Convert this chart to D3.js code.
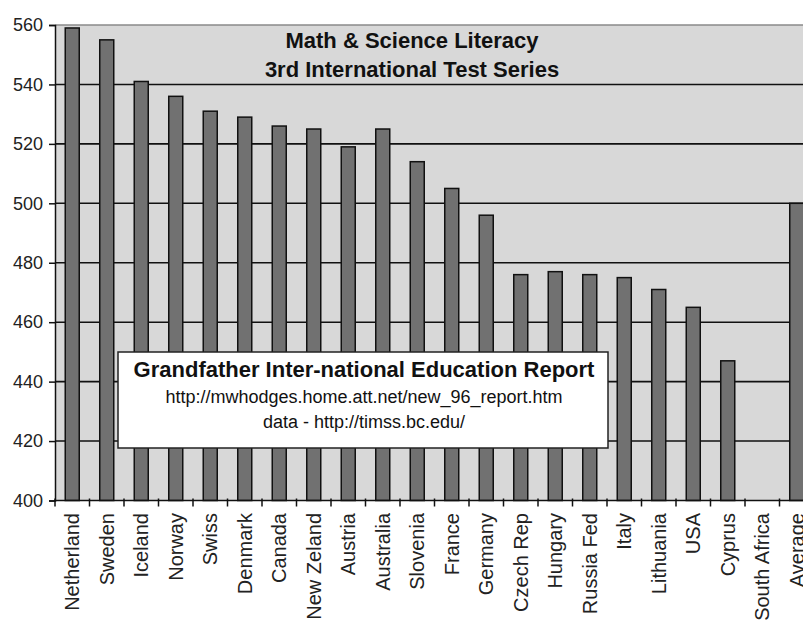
<!DOCTYPE html>
<html>
<head>
<meta charset="utf-8">
<script src="https://cdn.jsdelivr.net/npm/d3@7"></script>
<style>
  html, body { margin: 0; padding: 0; background: #fff; }
  svg { display: block; font-family: "Liberation Sans", Arial, sans-serif; }
</style>
</head>
<body>
<svg id="chart" width="803" height="628"></svg>
<script>
// TIMSS math & science literacy scores, final-year students
const countries = ["Netherland", "Sweden", "Iceland", "Norway", "Swiss", "Denmark",
  "Canada", "New Zeland", "Austria", "Australia", "Slovenia", "France", "Germany",
  "Czech Rep", "Hungary", "Russia Fed", "Italy", "Lithuania", "USA", "Cyprus",
  "South Africa", "Average"];
const scores = [559, 555, 541, 536, 531, 529, 526, 525, 519, 525, 514, 505, 496,
  476, 477, 476, 475, 471, 465, 447, 349, 500];
const yTicks = [400, 420, 440, 460, 480, 500, 520, 540, 560];
const titleLines = ["Math & Science Literacy", "3rd International Test Series"];
const noteLines = ["Grandfather Inter-national Education Report",
  "http://mwhodges.home.att.net/new_96_report.htm",
  "data - http://timss.bc.edu/"];

const svg = d3.select("#chart");
const plot = { left: 55, top: 25, bottom: 500.5, right: 814 };

const x = d3.scaleBand()
  .domain(countries)
  .range([plot.left, plot.right])
  .paddingInner(0.594)
  .paddingOuter(0.297);

const y = d3.scaleLinear()
  .domain([400, 560])
  .range([plot.bottom, plot.top]);

// plot background
svg.append("rect")
  .attr("x", plot.left).attr("y", plot.top)
  .attr("width", plot.right - plot.left).attr("height", plot.bottom - plot.top)
  .attr("fill", "#d8d8d8");

// top border
svg.append("line")
  .attr("x1", plot.left).attr("x2", plot.right)
  .attr("y1", y(560)).attr("y2", y(560))
  .attr("stroke", "#8a8a8a").attr("stroke-width", 1.5);

// horizontal gridlines
svg.append("g").selectAll("line")
  .data(yTicks.filter(d => d > 400 && d < 560))
  .join("line")
  .attr("x1", plot.left).attr("x2", plot.right)
  .attr("y1", d => y(d)).attr("y2", d => y(d))
  .attr("stroke", "#111").attr("stroke-width", 1.6);

// bars (scores under the axis floor are off the chart)
svg.append("g").selectAll("rect")
  .data(countries.map((c, i) => ({ c, v: scores[i] })).filter(d => d.v > y.domain()[0]))
  .join("rect")
  .attr("x", d => x(d.c))
  .attr("y", d => y(d.v))
  .attr("width", x.bandwidth())
  .attr("height", d => y(400) - y(d.v))
  .attr("fill", "#717171")
  .attr("stroke", "#111")
  .attr("stroke-width", 1.5);

// y axis
const yAxis = svg.append("g")
  .attr("transform", `translate(${plot.left},0)`)
  .call(d3.axisLeft(y).tickValues(yTicks).tickSize(6).tickPadding(6).tickFormat(d3.format("d")));
yAxis.select(".domain").attr("stroke", "#111").attr("stroke-width", 1.5);
yAxis.selectAll(".tick line").attr("stroke", "#111").attr("stroke-width", 1.5);
yAxis.selectAll(".tick text")
  .attr("font-family", "Liberation Sans, Arial, sans-serif")
  .attr("font-size", 18).attr("fill", "#222");

// x axis line with ticks on category boundaries
svg.append("line")
  .attr("x1", plot.left).attr("x2", plot.right)
  .attr("y1", y(400)).attr("y2", y(400))
  .attr("stroke", "#111").attr("stroke-width", 1.5);
svg.append("g").selectAll("line")
  .data(d3.range(countries.length + 1))
  .join("line")
  .attr("x1", i => plot.left + i * x.step())
  .attr("x2", i => plot.left + i * x.step())
  .attr("y1", y(400) - 2).attr("y2", y(400) + 6)
  .attr("stroke", "#111").attr("stroke-width", 1.5);

// category labels, rotated
svg.append("g").selectAll("text")
  .data(countries)
  .join("text")
  .attr("transform", d => `translate(${x(d) + x.bandwidth() / 2},513) rotate(-90)`)
  .attr("text-anchor", "end")
  .attr("dy", "0.35em")
  .attr("font-size", 20)
  .attr("fill", "#222")
  .text(d => d);

// chart title
svg.append("g").selectAll("text")
  .data(titleLines)
  .join("text")
  .attr("x", 412)
  .attr("y", (d, i) => 48 + i * 29)
  .attr("text-anchor", "middle")
  .attr("font-size", 22)
  .attr("font-weight", "bold")
  .attr("fill", "#111")
  .text(d => d);

// report note box
const note = svg.append("g");
note.append("rect")
  .attr("x", 118).attr("y", 352)
  .attr("width", 490).attr("height", 96)
  .attr("fill", "#fff")
  .attr("stroke", "#222").attr("stroke-width", 1.5);
note.selectAll("text")
  .data(noteLines)
  .join("text")
  .attr("x", 364)
  .attr("y", (d, i) => [377, 403, 428][i])
  .attr("text-anchor", "middle")
  .attr("font-size", (d, i) => i === 0 ? 22 : 18)
  .attr("font-weight", (d, i) => i === 0 ? "bold" : "normal")
  .attr("fill", "#111")
  .text(d => d);
</script>
</body>
</html>
